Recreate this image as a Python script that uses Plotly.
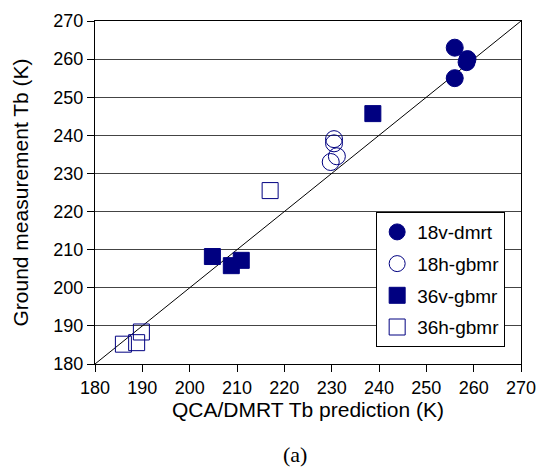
import plotly.graph_objects as go

# Brightness temperatures (K): model prediction (x) vs ground measurement (y)
dmrt_18v_x = [256.0, 258.7, 258.5, 256.0]
dmrt_18v_y = [263.0, 260.0, 259.2, 255.0]

gbmr_18h_x = [230.5, 230.5, 231.1, 229.8]
gbmr_18h_y = [239.0, 237.9, 234.5, 233.0]

gbmr_36v_x = [204.8, 208.8, 210.9, 238.7]
gbmr_36v_y = [208.2, 205.8, 207.2, 245.7]

gbmr_36h_x = [186.0, 188.8, 189.8, 217.0]
gbmr_36h_y = [185.2, 185.6, 188.4, 225.5]

axis_range = [180, 270]
tick_vals = list(range(180, 271, 10))

NAVY = "#000080"
FONT = "Liberation Sans, Arial, sans-serif"

fig = go.Figure()

# 1:1 reference line
fig.add_trace(go.Scatter(
    x=axis_range, y=axis_range, mode="lines",
    line=dict(color="black", width=1), showlegend=False, hoverinfo="skip",
))

series = [
    ("18v-dmrt", dmrt_18v_x, dmrt_18v_y, "circle", 17),
    ("18h-gbmr", gbmr_18h_x, gbmr_18h_y, "circle-open", 17),
    ("36v-gbmr", gbmr_36v_x, gbmr_36v_y, "square", 16),
    ("36h-gbmr", gbmr_36h_x, gbmr_36h_y, "square-open", 16),
]
for name, xs, ys, sym, size in series:
    fig.add_trace(go.Scatter(
        x=xs, y=ys, mode="markers", name=name, legendgroup=name,
        marker=dict(symbol=sym, size=size, color=NAVY,
                    line=dict(color=NAVY, width=1)),
    ))

axis_common = dict(
    range=axis_range, tickvals=tick_vals, ticks="outside", ticklen=7,
    tickcolor="black", tickwidth=1, showline=True, linecolor="black",
    linewidth=1, mirror=True, zeroline=False, automargin=False,
    tickfont=dict(family=FONT, size=18, color="black"),
)

fig.update_xaxes(
    **axis_common, showgrid=False,
    title=dict(text="QCA/DMRT Tb prediction (K)",
               font=dict(family=FONT, size=21, color="black"), standoff=5),
)
fig.update_yaxes(
    **axis_common, showgrid=True, gridcolor="#444444", gridwidth=1,
    title=dict(text="Ground measurement Tb (K)",
               font=dict(family=FONT, size=21, color="black"), standoff=19),
)

fig.add_annotation(
    text="(a)", xref="paper", yref="paper", x=0.47, y=-0.265,
    showarrow=False, yanchor="middle",
    font=dict(family="Liberation Serif, Times New Roman, serif", size=22, color="black"),
)

fig.update_layout(
    width=540, height=469,
    margin=dict(l=95, r=19, t=21, b=105),
    plot_bgcolor="white", paper_bgcolor="white",
    legend=dict(
        x=0.66, y=0.443, xanchor="left", yanchor="top",
        bgcolor="white", bordercolor="black", borderwidth=1,
        font=dict(family=FONT, size=19, color="black"),
        tracegroupgap=4,
    ),
)

fig.write_html("out.html")
